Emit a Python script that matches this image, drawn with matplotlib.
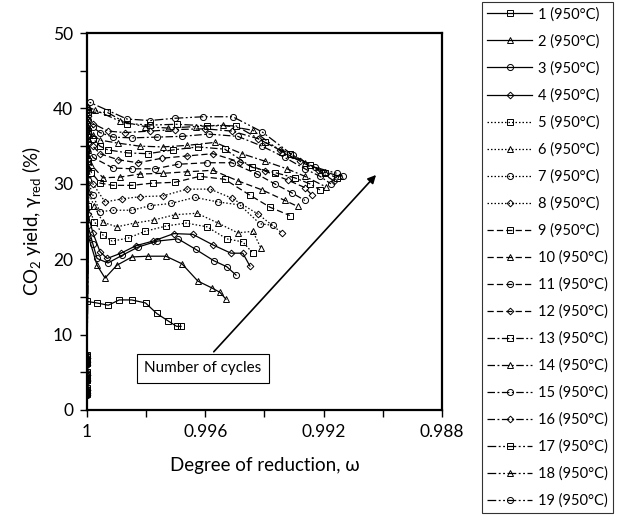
import matplotlib
matplotlib.use("Agg")
import matplotlib.pyplot as plt

plt.rcParams['font.family'] = ['Lato', 'DejaVu Sans']
plt.rcParams['mathtext.fontset'] = 'custom'
plt.rcParams['mathtext.rm'] = 'Lato'
plt.rcParams['mathtext.default'] = 'regular'

# ---------------- data (degree of reduction omega, CO2 yield %) ----------------
w1 = [1.0, 1.0, 1.0, 1.0, 0.99967, 0.99928, 0.99891, 0.99849, 0.99802, 0.99764, 0.99725, 0.99697, 0.99682]
y1 = [2.2, 4.0, 6.3, 14.4, 14.2, 13.9, 14.6, 14.6, 14.2, 12.8, 11.8, 11.1, 11.1]

w2 = [1.0, 1.0, 1.0, 0.99995, 0.99966, 0.99939, 0.99899, 0.99848, 0.99794, 0.99733, 0.99679, 0.99625, 0.99578, 0.99550, 0.99530]
y2 = [2.5, 4.4, 6.8, 23.0, 19.2, 17.5, 19.2, 20.3, 20.4, 20.4, 19.4, 17.1, 16.2, 15.6, 14.7]

w3 = [1.0, 1.0, 1.0, 0.99997, 0.99980, 0.99966, 0.99929, 0.99882, 0.99828, 0.99763, 0.99692, 0.99632, 0.99571, 0.99527, 0.99496]
y3 = [2.3, 4.2, 6.5, 24.5, 22.0, 20.1, 19.5, 20.5, 21.6, 22.4, 22.7, 21.3, 19.8, 19.0, 17.9]

w4 = [1.0, 1.0, 1.0, 0.99997, 0.99980, 0.99956, 0.99932, 0.99885, 0.99834, 0.99777, 0.99706, 0.99642, 0.99574, 0.99513, 0.99473, 0.99449]
y4 = [2.6, 4.6, 6.9, 26.0, 23.5, 21.0, 20.1, 20.8, 21.8, 22.4, 23.4, 23.3, 21.9, 20.8, 20.8, 19.1]

w5 = [1.0, 1.0, 1.0, 0.99997, 0.99975, 0.99946, 0.99915, 0.99861, 0.99804, 0.99733, 0.99665, 0.99594, 0.99527, 0.99473, 0.99439]
y5 = [2.4, 4.3, 6.6, 27.0, 25.0, 23.2, 22.4, 22.8, 23.7, 24.4, 24.8, 24.3, 22.7, 22.3, 20.8]

w6 = [1.0, 1.0, 1.0, 0.99997, 0.99975, 0.99946, 0.99899, 0.99838, 0.99774, 0.99703, 0.99628, 0.99557, 0.99490, 0.99439, 0.99412]
y6 = [2.1, 4.1, 6.2, 29.0, 27.0, 24.9, 24.3, 24.8, 25.2, 25.9, 26.1, 24.8, 23.5, 23.7, 21.5]

w7 = [1.0, 1.0, 1.0, 0.99997, 0.99980, 0.99956, 0.99912, 0.99848, 0.99787, 0.99716, 0.99635, 0.99557, 0.99483, 0.99415, 0.99371]
y7 = [2.8, 4.8, 7.1, 30.5, 28.5, 26.3, 26.5, 26.5, 27.1, 27.4, 28.2, 27.6, 27.2, 24.7, 24.5]

w8 = [1.0, 1.0, 1.0, 0.99997, 0.99980, 0.99939, 0.99882, 0.99821, 0.99743, 0.99662, 0.99584, 0.99510, 0.99422, 0.99341]
y8 = [2.0, 3.8, 6.0, 32.0, 30.0, 27.6, 28.0, 28.3, 28.4, 29.3, 29.3, 28.1, 26.0, 23.5]

w9 = [1.0, 1.0, 1.0, 0.99997, 0.99985, 0.99956, 0.99912, 0.99848, 0.99777, 0.99703, 0.99618, 0.99534, 0.99449, 0.99381, 0.99314]
y9 = [2.7, 4.7, 7.0, 33.0, 31.5, 30.1, 29.8, 29.8, 30.1, 30.2, 31.0, 30.6, 28.5, 26.9, 25.8]

w10 = [1.0, 1.0, 1.0, 0.99997, 0.99985, 0.99946, 0.99888, 0.99821, 0.99743, 0.99662, 0.99574, 0.99490, 0.99408, 0.99331, 0.99287]
y10 = [2.3, 4.5, 6.7, 34.5, 32.5, 30.8, 30.9, 31.3, 31.4, 31.6, 31.8, 30.4, 29.2, 27.8, 27.0]

w11 = [1.0, 1.0, 1.0, 0.99997, 0.99980, 0.99912, 0.99848, 0.99770, 0.99692, 0.99594, 0.99510, 0.99425, 0.99365, 0.99307, 0.99263]
y11 = [2.5, 4.9, 7.2, 35.5, 33.5, 32.1, 32.0, 32.0, 32.6, 32.8, 32.8, 31.3, 30.0, 28.8, 27.8]

w12 = [1.0, 1.0, 1.0, 0.99997, 0.99980, 0.99956, 0.99895, 0.99828, 0.99746, 0.99662, 0.99574, 0.99483, 0.99398, 0.99321, 0.99263, 0.99239]
y12 = [2.2, 4.0, 6.4, 36.5, 35.0, 34.0, 33.2, 32.8, 33.4, 33.7, 34.0, 32.9, 31.7, 30.5, 29.5, 28.5]

w13 = [1.0, 1.0, 1.0, 0.99997, 0.99980, 0.99956, 0.99929, 0.99861, 0.99794, 0.99709, 0.99625, 0.99534, 0.99442, 0.99365, 0.99297, 0.99246, 0.99212]
y13 = [2.9, 5.0, 7.3, 37.0, 36.0, 35.0, 34.5, 34.1, 34.0, 34.5, 34.9, 34.6, 32.2, 31.5, 30.8, 30.0, 29.2]

w14 = [1.0, 1.0, 1.0, 0.99997, 0.99980, 0.99956, 0.99895, 0.99821, 0.99743, 0.99662, 0.99567, 0.99476, 0.99398, 0.99324, 0.99263, 0.99192]
y14 = [2.4, 4.4, 6.8, 37.5, 36.5, 35.8, 35.4, 35.0, 34.9, 35.1, 35.5, 34.0, 33.0, 32.0, 31.0, 29.6]

w15 = [1.0, 1.0, 1.0, 0.99997, 0.99980, 0.99956, 0.99912, 0.99848, 0.99763, 0.99679, 0.99588, 0.99490, 0.99408, 0.99331, 0.99263, 0.99212, 0.99175]
y15 = [2.0, 3.9, 6.1, 38.5, 37.5, 36.8, 36.2, 36.1, 36.2, 36.3, 36.6, 36.3, 35.0, 33.5, 32.0, 31.0, 30.0]

w16 = [1.0, 1.0, 1.0, 0.99997, 0.99980, 0.99929, 0.99872, 0.99787, 0.99703, 0.99601, 0.99510, 0.99422, 0.99348, 0.99280, 0.99219, 0.99165]
y16 = [2.6, 4.6, 6.9, 39.0, 38.0, 37.0, 36.8, 37.0, 37.2, 37.3, 37.0, 36.0, 34.5, 33.0, 31.8, 30.4]

w17 = [1.0, 1.0, 1.0, 0.99997, 0.99932, 0.99865, 0.99787, 0.99696, 0.99594, 0.99496, 0.99398, 0.99314, 0.99246, 0.99196, 0.99155]
y17 = [2.3, 4.3, 6.6, 39.5, 39.5, 38.0, 37.8, 37.9, 37.7, 37.7, 35.5, 34.0, 32.5, 31.5, 30.8]

w18 = [1.0, 1.0, 1.0, 0.99997, 0.99973, 0.99888, 0.99804, 0.99726, 0.99632, 0.99540, 0.99439, 0.99341, 0.99263, 0.99196, 0.99145]
y18 = [2.7, 4.8, 7.2, 40.2, 39.8, 38.3, 37.6, 37.4, 37.6, 37.8, 37.1, 34.2, 32.8, 31.6, 31.0]

w19 = [1.0, 1.0, 1.0, 0.99990, 0.99865, 0.99787, 0.99703, 0.99608, 0.99507, 0.99408, 0.99304, 0.99229, 0.99155, 0.99135]
y19 = [2.1, 4.2, 6.5, 40.8, 38.6, 38.4, 38.7, 38.9, 38.9, 36.9, 33.8, 32.2, 31.4, 31.0]

omegas = [w1, w2, w3, w4, w5, w6, w7, w8, w9, w10, w11, w12, w13, w14, w15, w16, w17, w18, w19]
yields = [y1, y2, y3, y4, y5, y6, y7, y8, y9, y10, y11, y12, y13, y14, y15, y16, y17, y18, y19]
labels = [f"{i} (950°C)" for i in range(1, 20)]

x_ticks = [1.0, 0.998, 0.996, 0.994, 0.992, 0.990, 0.988]
x_tick_labels = ["1", "", "0.996", "", "0.992", "", "0.988"]
y_ticks = [0, 5, 10, 15, 20, 25, 30, 35, 40, 45, 50]
y_tick_labels = ["0", "", "10", "", "20", "", "30", "", "40", "", "50"]

# ---------------- styles ----------------
marker_cycle = ['s', '^', 'o', 'D']
marker_sizes = {'s': 4.2, '^': 4.6, 'o': 4.4, 'D': 3.4}
style_groups = ['-'] * 4 + [(0, (1.2, 1.6))] * 4 + [(0, (5, 2.5))] * 4 + \
               [(0, (6, 2, 1.5, 2))] * 4 + [(0, (7, 2, 1.5, 2, 1.5, 2))] * 3

fig = plt.figure(figsize=(6.17, 5.17), dpi=100)
ax = fig.add_axes([0.141, 0.207, 0.575, 0.729])

handles = []
for i, (w, y) in enumerate(zip(omegas, yields)):
    m = marker_cycle[i % 4]
    h, = ax.plot(w, y, linestyle=style_groups[i], color='black', linewidth=0.9,
                 marker=m, markersize=marker_sizes[m], markerfacecolor='none',
                 markeredgecolor='black', markeredgewidth=0.7, label=labels[i])
    handles.append(h)

ax.set_xlim(1.0, 0.988)
ax.set_ylim(0, 50)
ax.set_xticks(x_ticks)
ax.set_xticklabels(x_tick_labels)
ax.set_yticks(y_ticks)
ax.set_yticklabels(y_tick_labels)
ax.tick_params(direction='out', length=5, width=1.0, labelsize=12.5, colors='black', pad=5)
for s in ax.spines.values():
    s.set_linewidth(1.6)
    s.set_color('black')

ax.set_xlabel("Degree of reduction, ω", fontsize=13.5, labelpad=12)
ax.set_ylabel("CO$_2$ yield, γ$_{red}$ (%)", fontsize=13.5, labelpad=7)

# annotation with arrow
ax.annotate("", xy=(0.820, 0.629), xytext=(0.352, 0.149), xycoords='axes fraction',
            textcoords='axes fraction',
            arrowprops=dict(arrowstyle='-|>', color='black', lw=1.2, mutation_scale=12))
ax.text(0.327, 0.111, "Number of cycles", transform=ax.transAxes, fontsize=11,
        ha='center', va='center',
        bbox=dict(boxstyle='square,pad=0.5', facecolor='white', edgecolor='black', linewidth=0.8))

leg = fig.legend(handles=handles, loc='upper left', bbox_to_anchor=(0.781, 0.996),
                 fontsize=10.5, frameon=True, fancybox=False, edgecolor='black',
                 handlelength=3.1, handletextpad=0.4, labelspacing=0.87,
                 borderpad=0.35, borderaxespad=0.0)
leg.get_frame().set_linewidth(0.8)

fig.savefig("out.png", dpi=100)
